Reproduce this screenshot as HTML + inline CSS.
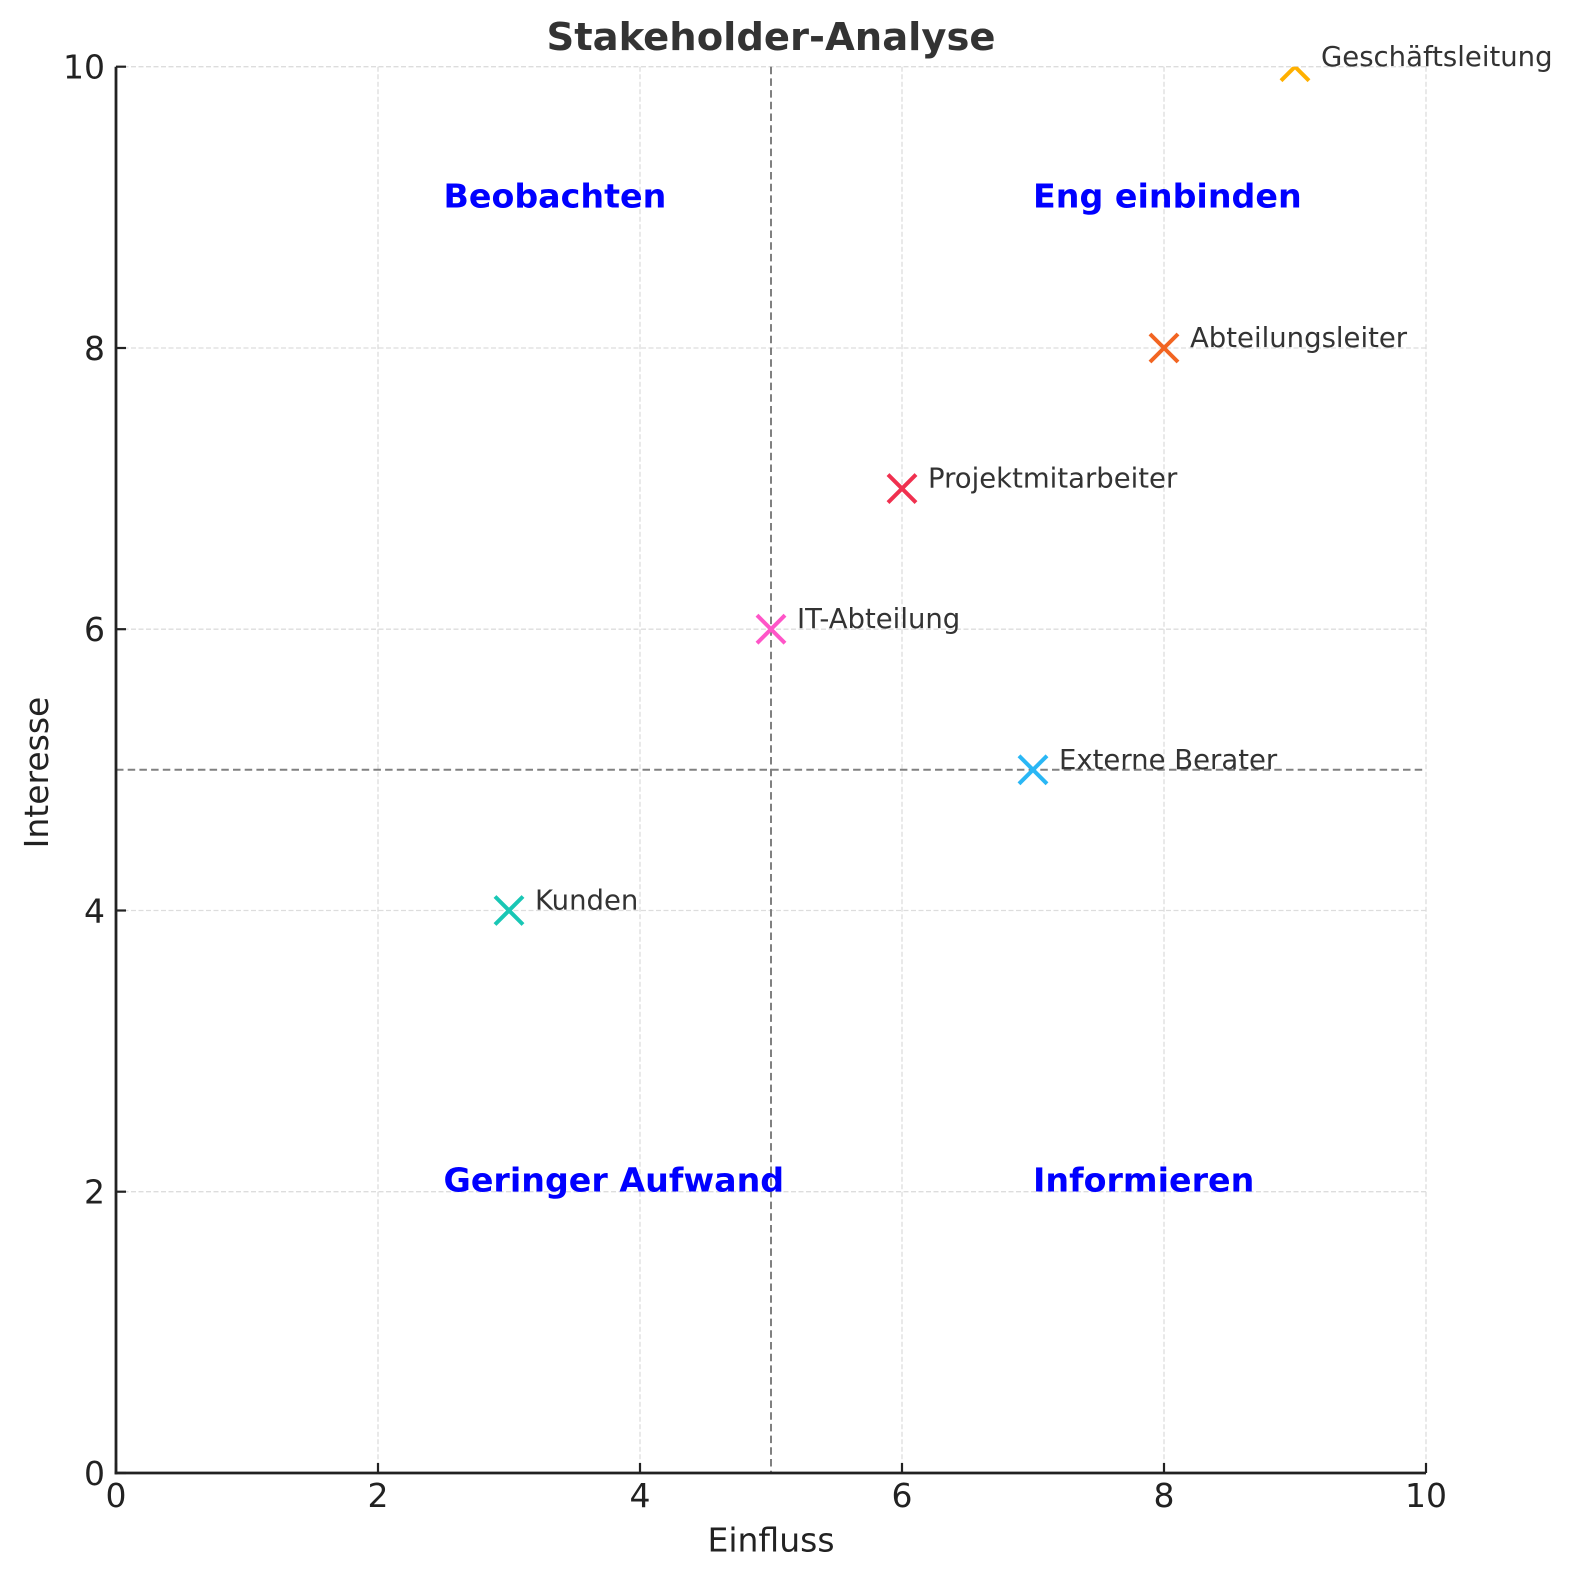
<!DOCTYPE html>
<html>
<head>
<meta charset="utf-8">
<style>
  html, body { margin: 0; padding: 0; background: #ffffff; }
  svg { display: block; }
  text { font-family: "DejaVu Sans", "Liberation Sans", sans-serif; }
</style>
</head>
<body>
<svg width="1574" height="1580" viewBox="0 0 1574 1580" xmlns="http://www.w3.org/2000/svg">
  <defs>
    <clipPath id="ax">
      <rect x="116" y="66.7" width="1310" height="1406.3"/>
    </clipPath>
  </defs>
  <rect x="0" y="0" width="1574" height="1580" fill="#ffffff"/>

  <!-- grid -->
  <g stroke="#dddddd" stroke-width="1.3" stroke-dasharray="5,2.5" fill="none">
    <line x1="116" y1="66.7" x2="116" y2="1473"/>
    <line x1="378" y1="66.7" x2="378" y2="1473"/>
    <line x1="640" y1="66.7" x2="640" y2="1473"/>
    <line x1="902" y1="66.7" x2="902" y2="1473"/>
    <line x1="1164" y1="66.7" x2="1164" y2="1473"/>
    <line x1="1426" y1="66.7" x2="1426" y2="1473"/>
    <line x1="116" y1="1473" x2="1426" y2="1473"/>
    <line x1="116" y1="1191.7" x2="1426" y2="1191.7"/>
    <line x1="116" y1="910.5" x2="1426" y2="910.5"/>
    <line x1="116" y1="629.2" x2="1426" y2="629.2"/>
    <line x1="116" y1="348" x2="1426" y2="348"/>
    <line x1="116" y1="66.7" x2="1426" y2="66.7"/>
  </g>

  <!-- quadrant dividers -->
  <g stroke="#808080" stroke-width="2" stroke-dasharray="7.5,4.2" fill="none">
    <line x1="771" y1="66.7" x2="771" y2="1473"/>
    <line x1="116" y1="769.8" x2="1426" y2="769.8"/>
  </g>

  <!-- quadrant labels -->
  <g font-weight="bold" font-size="33.3" fill="#0000ff">
    <text x="443.5" y="207.3">Beobachten</text>
    <text x="1033" y="207.3">Eng einbinden</text>
    <text x="443.5" y="1191.7">Geringer Aufwand</text>
    <text x="1033" y="1191.7">Informieren</text>
  </g>

  <!-- markers -->
  <g stroke-width="4" stroke-linecap="butt" fill="none" clip-path="url(#ax)">
    <path d="M495,896.5 L523,924.5 M495,924.5 L523,896.5" stroke="#19c7b5"/>
    <path d="M757,615.2 L785,643.2 M757,643.2 L785,615.2" stroke="#ff55c8"/>
    <path d="M888,474.6 L916,502.6 M888,502.6 L916,474.6" stroke="#f0304f"/>
    <path d="M1150,334 L1178,362 M1150,362 L1178,334" stroke="#f26522"/>
    <path d="M1281,52.7 L1309,80.7 M1281,80.7 L1309,52.7" stroke="#ffb000"/>
    <path d="M1019,755.8 L1047,783.8 M1019,783.8 L1047,755.8" stroke="#2ab7f5"/>
  </g>

  <!-- point labels -->
  <g font-size="27.5" fill="#333333">
    <text x="535" y="909.5">Kunden</text>
    <text x="797" y="628">IT-Abteilung</text>
    <text x="928" y="487.6">Projektmitarbeiter</text>
    <text x="1190" y="347">Abteilungsleiter</text>
    <text x="1321" y="66">Geschäftsleitung</text>
    <text x="1059" y="768.8">Externe Berater</text>
  </g>

  <!-- spines -->
  <g stroke="#222222" stroke-width="2.8" fill="none">
    <line x1="116" y1="66.7" x2="116" y2="1474.4"/>
    <line x1="114.6" y1="1473" x2="1426" y2="1473"/>
  </g>

  <!-- ticks (inward) -->
  <g stroke="#222222" stroke-width="2.2">
    <line x1="116" y1="1473" x2="116" y2="1463"/>
    <line x1="378" y1="1473" x2="378" y2="1463"/>
    <line x1="640" y1="1473" x2="640" y2="1463"/>
    <line x1="902" y1="1473" x2="902" y2="1463"/>
    <line x1="1164" y1="1473" x2="1164" y2="1463"/>
    <line x1="1426" y1="1473" x2="1426" y2="1463"/>
    <line x1="116" y1="1473" x2="126" y2="1473"/>
    <line x1="116" y1="1191.7" x2="126" y2="1191.7"/>
    <line x1="116" y1="910.5" x2="126" y2="910.5"/>
    <line x1="116" y1="629.2" x2="126" y2="629.2"/>
    <line x1="116" y1="348" x2="126" y2="348"/>
    <line x1="116" y1="66.7" x2="126" y2="66.7"/>
  </g>

  <!-- x tick labels -->
  <g font-size="33" fill="#222222" text-anchor="middle">
    <text x="116" y="1507">0</text>
    <text x="378" y="1507">2</text>
    <text x="640" y="1507">4</text>
    <text x="902" y="1507">6</text>
    <text x="1164" y="1507">8</text>
    <text x="1426" y="1507">10</text>
  </g>

  <!-- y tick labels -->
  <g font-size="33" fill="#222222" text-anchor="end">
    <text x="105" y="1485">0</text>
    <text x="105" y="1203.7">2</text>
    <text x="105" y="922.5">4</text>
    <text x="105" y="641.2">6</text>
    <text x="105" y="360">8</text>
    <text x="105" y="78.7">10</text>
  </g>

  <!-- axis labels -->
  <text x="771" y="1551.7" font-size="33" fill="#222222" text-anchor="middle">Einfluss</text>
  <text transform="translate(48,772.5) rotate(-90)" x="0" y="0" font-size="33" fill="#222222" text-anchor="middle">Interesse</text>

  <!-- title -->
  <text x="771" y="50" font-size="38.5" font-weight="bold" fill="#333333" text-anchor="middle">Stakeholder-Analyse</text>
</svg>
</body>
</html>
